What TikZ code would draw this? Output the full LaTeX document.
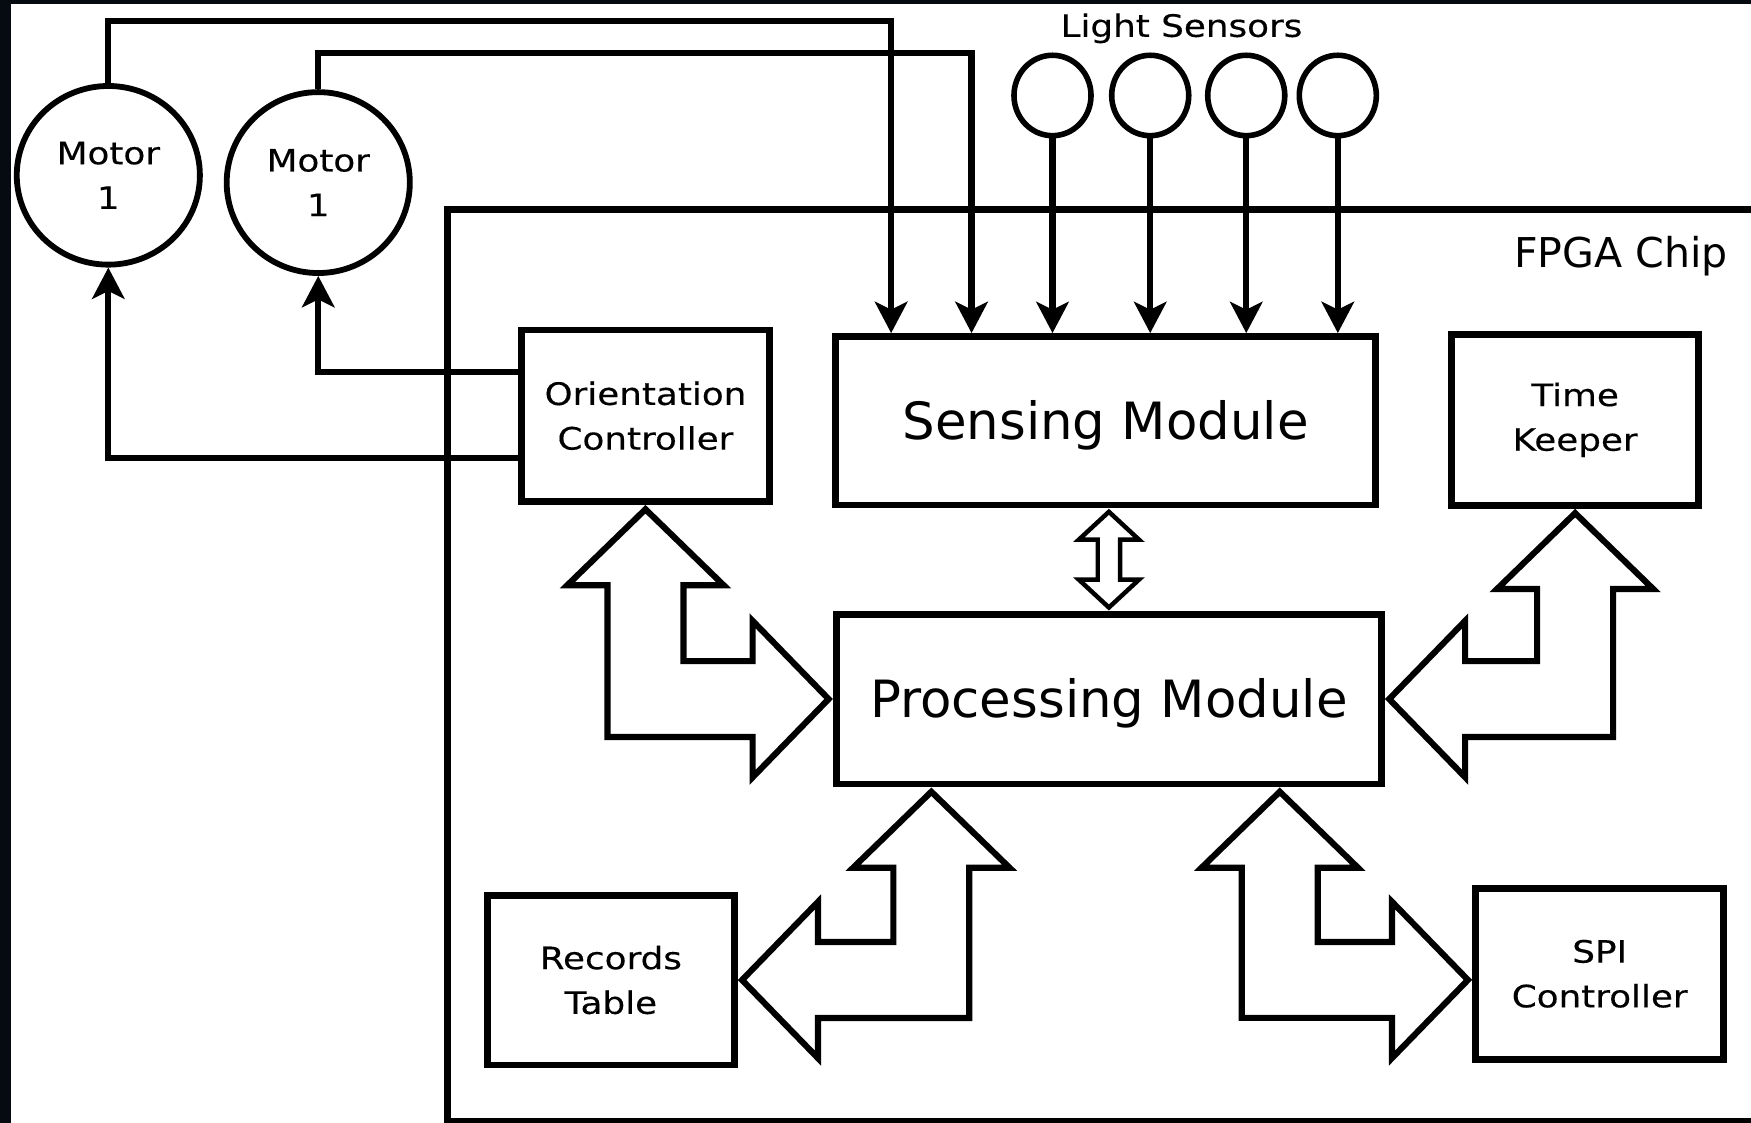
\documentclass[tikz,border=0pt]{standalone}
\usepackage{fontspec}
\setmainfont{DejaVu Sans}
\newfontfamily\widefont[FakeStretch=1.16,FakeBold=0.35]{DejaVu Sans}
\usetikzlibrary{arrows.meta,calc,shapes.geometric}
\definecolor{framecol}{RGB}{6,11,17}
\newcommand{\smallf}{\widefont\fontsize{13.8pt}{20pt}\selectfont}
\newcommand{\bigf}{\fontsize{23pt}{28pt}\selectfont}
\newcommand{\fpgaf}{\fontsize{18.4pt}{22pt}\selectfont}
\begin{document}
\begin{tikzpicture}[x=0.5pt,y=-0.5pt,
  blk/.style={draw, line width=3pt, inner sep=0pt, align=center, font=\smallf},
  motor/.style={ellipse, draw, line width=2.6pt, minimum width=82pt, inner sep=0pt, align=center, font=\smallf},
  sensor/.style={ellipse, draw, line width=2.5pt, minimum width=34.5pt, minimum height=36pt, inner sep=0pt},
  wire/.style={line width=2.75pt, -{Stealth[length=14pt,width=14.5pt,inset=3.5pt]}},
  barrow/.style={draw, line width=2.75pt, line join=miter, miter limit=10},
  sarrow/.style={draw, line width=2pt, line join=miter, miter limit=10}]
\useasboundingbox (0,0) rectangle (1568,1005.6);
\clip (0,0) rectangle (1568,1005.6);
\fill[white] (0,0) rectangle (1568,1005.6);
\fill[framecol] (0,0) rectangle (1568,3.6);
\fill[framecol] (0,0) rectangle (9.9,1005.6);

% FPGA chip outline
\node[draw, line width=3pt, inner sep=0pt, minimum width=609.5pt, minimum height=408.5pt] (fpga) at (1010.5,596) {};
\node[font=\fpgaf, anchor=base east, inner sep=0pt] (fc) at (1547.5,239.4) {FPGA Chip};

% blocks
\node[blk, minimum width=111pt, minimum height=76.75pt] (oc) at (578,372.3) {Orientation\\Controller};
\node[blk, minimum width=242pt, minimum height=75.5pt, font=\bigf] (sm) at (990,376.8) {\raisebox{-2pt}[\height][\depth]{Sensing Module}};
\node[blk, minimum width=110.5pt, minimum height=76.5pt] (tk) at (1410.5,376) {Time\\Keeper};
\node[blk, minimum width=244pt, minimum height=76pt, font=\bigf] (pm) at (993,626) {\raisebox{-2pt}[\height][\depth]{Processing Module}};
\node[blk, minimum width=110.5pt, minimum height=76pt] (rt) at (547,877.6) {Records\\Table};
\node[blk, minimum width=111pt, minimum height=76.5pt] (spi) at (1432.5,872) {SPI\\Controller};

% motors
\node[motor, minimum height=80pt] (mA) at (97,157) {Motor\\1};
\node[motor, minimum height=81pt] (mB) at (285,163.5) {Motor\\1};

% light sensors
\node[font=\smallf, anchor=base, inner sep=0pt] (ls) at (1058,33) {Light Sensors};
\node[sensor] (s1) at (942.5,85.5) {};
\node[sensor] (s2) at (1030,85.5) {};
\node[sensor] (s3) at (1116,85.5) {};
\node[sensor] (s4) at (1198,85.5) {};

% wires
\foreach \s in {s1,s2,s3,s4}
  \draw[wire] (\s.south) -- (\s.south |- sm.north);
\draw[wire] (mA.north) -- ++(0,-55.5) -| ($(sm.north west)+(53,0)$);
\draw[wire] (mB.north) -- ++(0,-32.5) -| ($(sm.north west)+(125,0)$);
\draw[wire] ($(oc.west)+(0,-39)$) -| (mB.south);
\draw[wire] ($(oc.west)+(0,38)$) -| (mA.south);

% block arrow: orientation controller <-> processing module
\draw[barrow] let \p1=(oc.south), \p2=(pm.west) in
  (\x1,{\y1-2pt}) -- ({\x1+35pt},{\y1-36pt}) -- ({\x1+17pt},{\y1-36pt}) -- ({\x1+17pt},{\y2+17pt})
  -- ({\x2-36pt},{\y2+17pt}) -- ({\x2-36pt},{\y2+35pt}) -- ({\x2-2pt},\y2) -- ({\x2-36pt},{\y2-35pt})
  -- ({\x2-36pt},{\y2-17pt}) -- ({\x1-17pt},{\y2-17pt}) -- ({\x1-17pt},{\y1-36pt}) -- ({\x1-35pt},{\y1-36pt}) -- cycle;

% block arrow: time keeper <-> processing module
\draw[barrow] let \p1=(tk.south), \p2=(pm.east) in
  (\x1,{\y1-2pt}) -- ({\x1-35pt},{\y1-36pt}) -- ({\x1-17pt},{\y1-36pt}) -- ({\x1-17pt},{\y2+17pt})
  -- ({\x2+36pt},{\y2+17pt}) -- ({\x2+36pt},{\y2+35pt}) -- ({\x2+2pt},\y2) -- ({\x2+36pt},{\y2-35pt})
  -- ({\x2+36pt},{\y2-17pt}) -- ({\x1+17pt},{\y2-17pt}) -- ({\x1+17pt},{\y1-36pt}) -- ({\x1+35pt},{\y1-36pt}) -- cycle;

% block arrow: processing module <-> records table
\draw[barrow] let \p1=([xshift=44pt]pm.south west), \p2=(rt.east) in
  (\x1,{\y1-2pt}) -- ({\x1+35pt},{\y1-36pt}) -- ({\x1+17pt},{\y1-36pt}) -- ({\x1+17pt},{\y2-17pt})
  -- ({\x2+36pt},{\y2-17pt}) -- ({\x2+36pt},{\y2-35pt}) -- ({\x2+2pt},\y2) -- ({\x2+36pt},{\y2+35pt})
  -- ({\x2+36pt},{\y2+17pt}) -- ({\x1-17pt},{\y2+17pt}) -- ({\x1-17pt},{\y1-36pt}) -- ({\x1-35pt},{\y1-36pt}) -- cycle;

% block arrow: processing module <-> SPI controller
\draw[barrow] let \p1=([xshift=200pt]pm.south west), \p2=([yshift=-2.75pt]spi.west) in
  (\x1,{\y1-2pt}) -- ({\x1+35pt},{\y1-36pt}) -- ({\x1+17pt},{\y1-36pt}) -- ({\x1+17pt},{\y2+17pt})
  -- ({\x2-36pt},{\y2+17pt}) -- ({\x2-36pt},{\y2+35pt}) -- ({\x2-2pt},\y2) -- ({\x2-36pt},{\y2-35pt})
  -- ({\x2-36pt},{\y2-17pt}) -- ({\x1-17pt},{\y2-17pt}) -- ({\x1-17pt},{\y1-36pt}) -- ({\x1-35pt},{\y1-36pt}) -- cycle;

% small double arrow: sensing <-> processing
\draw[sarrow] let \p1=(sm.south), \p2=(pm.north) in
  (\x2,{\y1-1.5pt}) -- ({\x2+13.5pt},{\y1-14pt}) -- ({\x2+5pt},{\y1-14pt}) -- ({\x2+5pt},{\y2+14pt})
  -- ({\x2+13.5pt},{\y2+14pt}) -- (\x2,{\y2+1.5pt}) -- ({\x2-13.5pt},{\y2+14pt}) -- ({\x2-5pt},{\y2+14pt})
  -- ({\x2-5pt},{\y1-14pt}) -- ({\x2-13.5pt},{\y1-14pt}) -- cycle;
\end{tikzpicture}
\end{document}
